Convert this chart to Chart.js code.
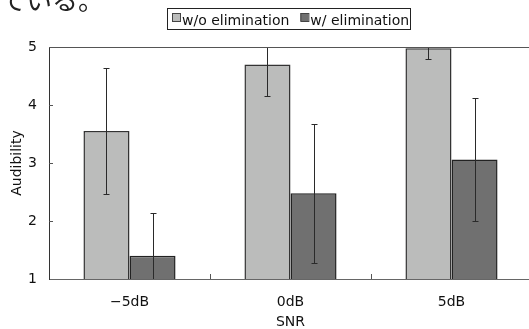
<!DOCTYPE html>
<html>
  <head>
    <meta charset="utf-8"/>
    <style type="text/css">
      body {
        margin: 0px;
        padding: 0px;
        overflow: hidden;
        background: #ffffff;
      }
    </style>
  </head>
  <body>
    <canvas id="chart" width="536" height="329"></canvas>
    <script src="https://cdn.jsdelivr.net/npm/chart.js@4.4.0/dist/chart.umd.min.js"></script>
    <script>
      var categories = ['\u22125dB', '0dB', '5dB'];
      var seriesNames = ['w/o elimination', 'w/ elimination'];
      var withoutElim = [3.55, 4.70, 4.98];
      var withoutErr = [1.08, 0.54, 0.18];
      var withElim = [1.40, 2.48, 3.06];
      var withErr = [0.74, 1.20, 1.06];
      var yTicks = [1, 2, 3, 4, 5];
      var headText = 'ている。';

      var FONT = 'DejaVu Sans';
      var errors = [withoutErr, withErr];

      // error bars, clipped to the plot area
      var errorBars = {
        id: 'errorBars',
        afterDatasetsDraw: function(chart) {
          var ctx = chart.ctx, area = chart.chartArea, y = chart.scales.y;
          ctx.save();
          ctx.beginPath();
          ctx.rect(area.left, area.top, area.right - area.left, area.bottom - area.top);
          ctx.clip();
          ctx.strokeStyle = '#2a2a2a';
          ctx.lineWidth = 1;
          chart.data.datasets.forEach(function(ds, i) {
            chart.getDatasetMeta(i).data.forEach(function(bar, j) {
              var x = Math.round(bar.x) + 0.5;
              var v = ds.data[j], e = errors[i][j];
              var y1 = Math.round(y.getPixelForValue(v + e)) + 0.5;
              var y2 = Math.round(y.getPixelForValue(v - e)) + 0.5;
              ctx.beginPath();
              ctx.moveTo(x, y1); ctx.lineTo(x, y2);
              ctx.moveTo(x - 3, y1); ctx.lineTo(x + 3, y1);
              ctx.moveTo(x - 3, y2); ctx.lineTo(x + 3, y2);
              ctx.stroke();
            });
          });
          ctx.restore();
        }
      };

      // frame line on top, inside tick marks, legend box, leftover text
      var decor = {
        id: 'decor',
        afterDraw: function(chart) {
          var ctx = chart.ctx, area = chart.chartArea;
          var xs = chart.scales.x, ys = chart.scales.y;
          ctx.save();
          ctx.strokeStyle = '#555555';
          ctx.lineWidth = 1;
          ctx.beginPath();
          ctx.moveTo(area.left, area.top + 0.5);
          ctx.lineTo(area.right, area.top + 0.5);
          yTicks.slice(1, -1).forEach(function(t) {
            var py = Math.round(ys.getPixelForValue(t)) + 0.5;
            ctx.moveTo(area.left, py); ctx.lineTo(area.left + 4, py);
          });
          for (var i = 0; i < categories.length - 1; i++) {
            var px = Math.round((xs.getPixelForValue(i) + xs.getPixelForValue(i + 1)) / 2) + 0.5;
            ctx.moveTo(px, area.bottom); ctx.lineTo(px, area.bottom - 5);
          }
          ctx.stroke();

          // legend
          ctx.font = '14px "' + FONT + '"';
          ctx.textBaseline = 'alphabetic';
          ctx.fillStyle = '#ffffff';
          ctx.strokeStyle = '#222222';
          ctx.fillRect(167, 8, 243, 21);
          ctx.strokeRect(167.5, 8.5, 243, 21);
          var lx = 172;
          chart.data.datasets.forEach(function(ds) {
            ctx.fillStyle = ds.backgroundColor;
            ctx.fillRect(lx, 13, 8, 8);
            ctx.strokeStyle = '#444444';
            ctx.strokeRect(lx + 0.5, 13.5, 8, 8);
            ctx.fillStyle = '#111111';
            ctx.fillText(ds.label, lx + 10, 25);
            lx += 10 + ctx.measureText(ds.label).width + 11;
          });

          // end of the paragraph above the figure, cut by the top edge
          ctx.font = '26px "Noto Sans CJK JP"';
          ctx.fillStyle = '#222222';
          ctx.fillText(headText, 0, 10);
          ctx.restore();
        }
      };

      new Chart(document.getElementById('chart'), {
        type: 'bar',
        data: {
          labels: categories,
          datasets: [{
            label: seriesNames[0],
            data: withoutElim,
            backgroundColor: '#bbbcbb',
            borderColor: '#333333',
            borderWidth: 1.5,
            borderSkipped: false
          }, {
            label: seriesNames[1],
            data: withElim,
            backgroundColor: '#707070',
            borderColor: '#222222',
            borderWidth: 1.5,
            borderSkipped: false
          }]
        },
        options: {
          responsive: false,
          animation: false,
          events: [],
          layout: { padding: { left: 0, right: 4, top: 47, bottom: 0 } },
          datasets: { bar: { categoryPercentage: 0.572, barPercentage: 1.0 } },
          plugins: { legend: { display: false }, tooltip: { enabled: false } },
          scales: {
            x: {
              grid: { display: false, drawTicks: false },
              border: { display: true, color: '#666666', width: 1 },
              ticks: { color: '#111111', padding: 15, font: { family: FONT, size: 14 } },
              title: { display: true, text: 'SNR', color: '#111111', padding: 0,
                       font: { family: FONT, size: 14, lineHeight: 1 } },
              afterFit: function(s) { s.height = 50; }
            },
            y: {
              min: yTicks[0],
              max: yTicks[yTicks.length - 1],
              afterBuildTicks: function(s) { s.ticks = yTicks.map(function(v) { return { value: v }; }); },
              grid: { display: false, drawTicks: false },
              border: { display: true, color: '#333333', width: 1 },
              ticks: { color: '#111111', padding: 12, font: { family: FONT, size: 14 } },
              title: { display: true, text: 'Audibility', color: '#111111', padding: { top: 9, bottom: 0 },
                       font: { family: FONT, size: 14 } },
              afterFit: function(s) { s.width = 49; }
            }
          }
        },
        plugins: [errorBars, decor]
      });
    </script>
  </body>
</html>
